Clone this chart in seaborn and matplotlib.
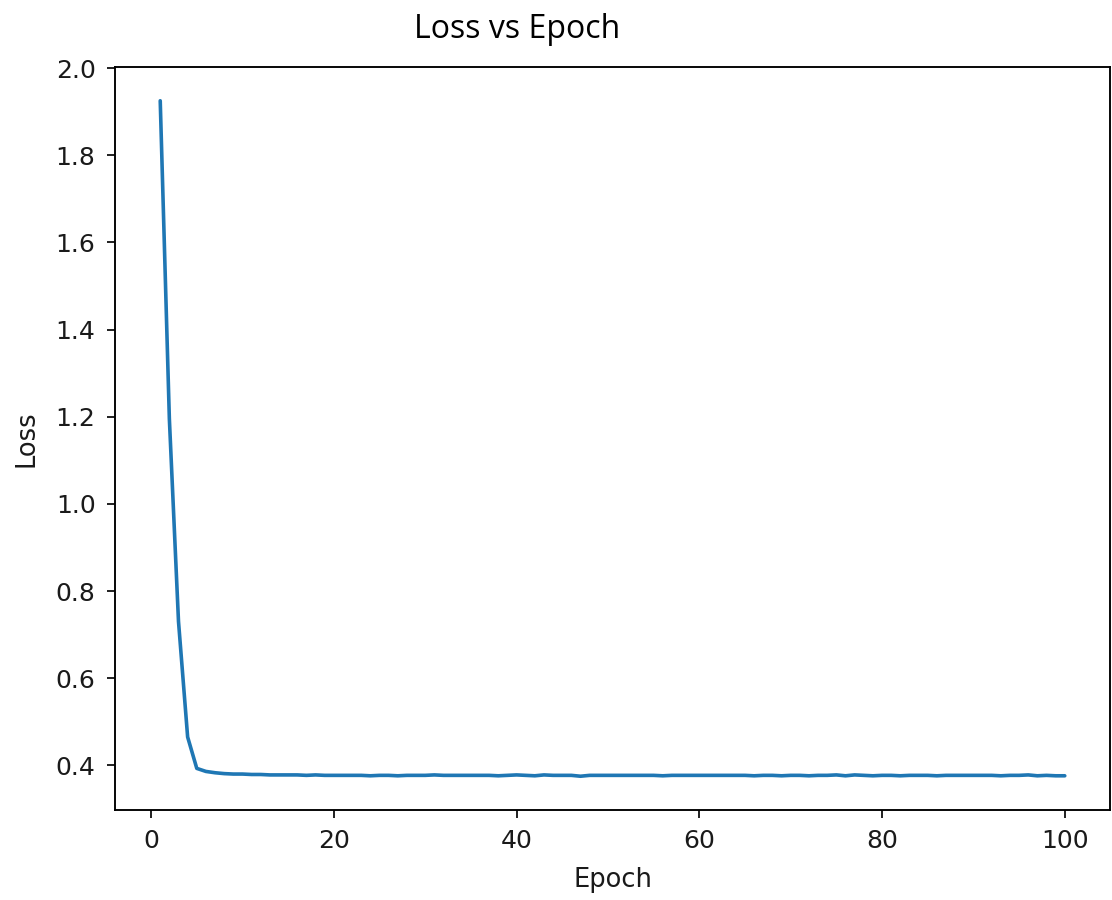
import matplotlib
matplotlib.use("Agg")
import matplotlib.pyplot as plt
import seaborn as sns
import pandas as pd

epochs = list(range(1, 101))
loss = [
    1.925, 1.195, 0.730, 0.465, 0.393, 0.386, 0.383, 0.381, 0.380, 0.380,
    0.379, 0.379, 0.378, 0.378, 0.378, 0.378, 0.377, 0.378, 0.377, 0.377,
    0.377, 0.377, 0.377, 0.376, 0.377, 0.377, 0.376, 0.377, 0.377, 0.377,
    0.378, 0.377, 0.377, 0.377, 0.377, 0.377, 0.377, 0.376, 0.377, 0.378,
    0.377, 0.376, 0.378, 0.377, 0.377, 0.377, 0.375, 0.377, 0.377, 0.377,
    0.377, 0.377, 0.377, 0.377, 0.377, 0.376, 0.377, 0.377, 0.377, 0.377,
    0.377, 0.377, 0.377, 0.377, 0.377, 0.376, 0.377, 0.377, 0.376, 0.377,
    0.377, 0.376, 0.377, 0.377, 0.378, 0.376, 0.378, 0.377, 0.376, 0.377,
    0.377, 0.376, 0.377, 0.377, 0.377, 0.376, 0.377, 0.377, 0.377, 0.377,
    0.377, 0.377, 0.376, 0.377, 0.377, 0.378, 0.376, 0.377, 0.376, 0.376,
]

df = pd.DataFrame({"Epoch": epochs, "Loss": loss})

sns.set_style("ticks")
plt.rcParams["font.family"] = ["DejaVu Sans"]

fig = plt.figure(figsize=(11.12, 9.0), dpi=100)
ax = fig.add_axes([115 / 1112, 90 / 900, 995 / 1112, 743 / 900])

sns.lineplot(data=df, x="Epoch", y="Loss", ax=ax, color="#1f77b4", linewidth=2.6)

ax.set_yticks([0.4, 0.6, 0.8, 1.0, 1.2, 1.4, 1.6, 1.8, 2.0])
ax.set_xticks([0, 20, 40, 60, 80, 100])
ax.tick_params(labelsize=18, length=6, width=1.36, pad=8, colors="#1a1a1a")
for s in ax.spines.values():
    s.set_linewidth(1.36)
    s.set_color("black")
    s.set_visible(True)

ax.set_xlabel("Epoch", fontsize=18.5, labelpad=10, color="#1a1a1a")
ax.set_ylabel("Loss", fontsize=18.5, labelpad=12, color="#1a1a1a")

fig.text(517 / 1112, 1 - 30 / 900, "Loss vs Epoch", ha="center", va="center",
         fontsize=23, family=["Open Sans", "DejaVu Sans"], color="black")

fig.savefig("out.png", dpi=100)
